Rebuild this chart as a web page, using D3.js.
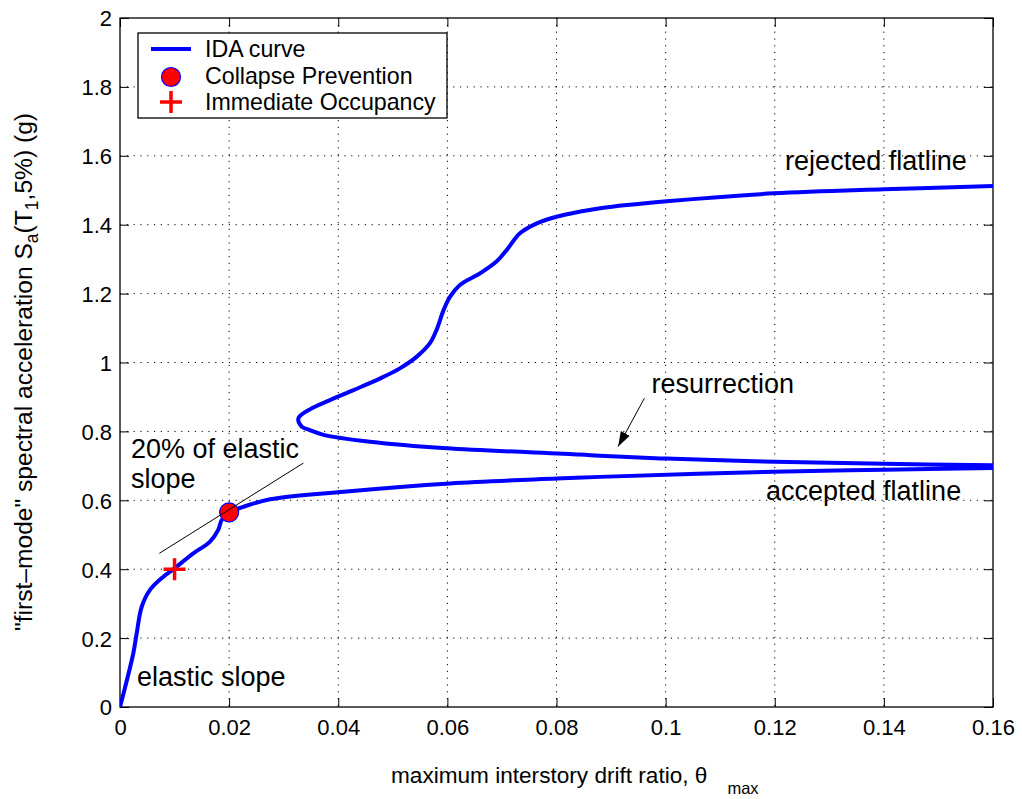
<!DOCTYPE html>
<html>
<head>
<meta charset="utf-8">
<script src="https://cdn.jsdelivr.net/npm/d3@7"></script>
<style>
  html, body { margin: 0; padding: 0; background: #fff; }
  svg { display: block; font-family: "Liberation Sans", Arial, Helvetica, sans-serif; }
</style>
</head>
<body>
<svg id="chart" width="1022" height="799"></svg>
<script>
// IDA curve: maximum interstory drift ratio vs first-mode spectral acceleration.
// The curve runs up the elastic branch, out along the accepted flatline, then
// back along the resurrection branch and up to the rejected flatline.
const driftRatio = [
  0, 0.00244, 0.00306, 0.00398, 0.0055, 0.00794, 0.0098, 0.01344, 0.0165, 0.018, 0.01864, 0.02,
  0.0226, 0.0275, 0.041, 0.0605, 0.08, 0.088, 0.1198, 0.14, 0.16,
  0.16, 0.14, 0.12, 0.1, 0.088, 0.0843, 0.0599, 0.0458, 0.0373, 0.0348, 0.0333, 0.0327,
  0.0348, 0.0385, 0.0428, 0.0477, 0.0513, 0.0544, 0.0568, 0.058, 0.0593, 0.0605, 0.0623,
  0.066, 0.069, 0.0709, 0.0733, 0.0764, 0.08, 0.0843, 0.088, 0.1002, 0.1198, 0.14, 0.16
];
const spectralAccel = [
  0, 0.156, 0.214, 0.291, 0.340, 0.378, 0.400, 0.446, 0.480, 0.514, 0.543, 0.565,
  0.581, 0.603, 0.625, 0.649, 0.663, 0.668, 0.683, 0.689, 0.694,
  0.702, 0.706, 0.712, 0.721, 0.729, 0.733, 0.751, 0.770, 0.790, 0.804, 0.814, 0.838,
  0.864, 0.891, 0.920, 0.954, 0.983, 1.017, 1.056, 1.094, 1.152, 1.191, 1.225,
  1.259, 1.293, 1.327, 1.375, 1.404, 1.423, 1.438, 1.448, 1.468, 1.491, 1.503, 1.512
];
// index where the curve turns back from the accepted flatline
const turnIndex = 21;

// Limit-state points
const collapsePrevention = [0.02, 0.565];
const immediateOccupancy = [0.01, 0.40];

// 20% of elastic slope reference line (two end points)
const slopeLineX = [0.0072, 0.0336];
const slopeLineY = [0.446, 0.708];

// Resurrection arrow (tail, head)
const arrowX = [0.0961, 0.0913];
const arrowY = [0.896, 0.756];

// Axis ticks
const xTicks = [0, 0.02, 0.04, 0.06, 0.08, 0.1, 0.12, 0.14, 0.16];
const xTickLabels = ["0", "0.02", "0.04", "0.06", "0.08", "0.1", "0.12", "0.14", "0.16"];
const yTicks = [0, 0.2, 0.4, 0.6, 0.8, 1, 1.2, 1.4, 1.6, 1.8, 2];
const yTickLabels = ["0", "0.2", "0.4", "0.6", "0.8", "1", "1.2", "1.4", "1.6", "1.8", "2"];

// Annotation labels and their anchor points (data coordinates)
const noteText = ["rejected flatline", "resurrection", "accepted flatline", "20% of elastic", "slope", "elastic slope"];
const noteX = [0.1219, 0.0974, 0.1184, 0.0020, 0.0020, 0.0031];
const noteY = [1.558, 0.912, 0.600, 0.723, 0.636, 0.060];

const legendLabels = ["IDA curve", "Collapse Prevention", "Immediate Occupancy"];

const blue = "#0000ff", red = "#ff0000";
const svg = d3.select("#chart");
const m = { left: 120, top: 18, right: 29, bottom: 92 };
const W = 1022 - m.left - m.right, H = 799 - m.top - m.bottom;

const x = d3.scaleLinear().domain([0, 0.16]).range([0, W]);
const y = d3.scaleLinear().domain([0, 2]).range([H, 0]);

const g = svg.append("g").attr("transform", `translate(${m.left},${m.top})`);

const defs = svg.append("defs");
defs.append("clipPath").attr("id", "plotClip")
  .append("rect").attr("width", W).attr("height", H);
defs.append("marker")
  .attr("id", "arrowHead").attr("viewBox", "0 0 10 10").attr("refX", 10).attr("refY", 5)
  .attr("markerWidth", 15).attr("markerHeight", 15).attr("markerUnits", "userSpaceOnUse")
  .attr("orient", "auto")
  .append("path").attr("d", "M0,1.6 L10,5 L0,8.4 Z").attr("fill", "#000");

// Dotted grid
const grid = g.append("g").attr("stroke", "#000").attr("stroke-width", 1).attr("stroke-dasharray", "1.2,5.6");
grid.selectAll(".gx").data(xTicks.slice(1, -1)).join("line")
  .attr("x1", d => x(d)).attr("x2", d => x(d)).attr("y1", 0).attr("y2", H);
grid.selectAll(".gy").data(yTicks.slice(1, -1)).join("line")
  .attr("x1", 0).attr("x2", W).attr("y1", d => y(d)).attr("y2", d => y(d));

// Axes with inward ticks on all four sides
const tickLen = 9;
const fmtX = d => xTickLabels[xTicks.indexOf(d)];
const fmtY = d => yTickLabels[yTicks.indexOf(d)];
const axB = g.append("g").attr("transform", `translate(0,${H})`)
  .call(d3.axisBottom(x).tickValues(xTicks).tickFormat(fmtX).tickSizeInner(-tickLen).tickSizeOuter(0).tickPadding(12));
const axL = g.append("g")
  .call(d3.axisLeft(y).tickValues(yTicks).tickFormat(fmtY).tickSizeInner(-tickLen).tickSizeOuter(0).tickPadding(8));
const axT = g.append("g")
  .call(d3.axisTop(x).tickValues(xTicks).tickFormat("").tickSizeInner(-tickLen).tickSizeOuter(0));
const axR = g.append("g").attr("transform", `translate(${W},0)`)
  .call(d3.axisRight(y).tickValues(yTicks).tickFormat("").tickSizeInner(-tickLen).tickSizeOuter(0));
[axB, axL, axT, axR].forEach(a => {
  a.select(".domain").remove();
  a.selectAll("line").attr("stroke", "#000").attr("stroke-width", 1);
  a.selectAll("text").attr("font-size", 22).attr("fill", "#000").attr("font-family", "Liberation Sans, Arial, sans-serif");
});
axB.selectAll("text").attr("dy", "0.71em");
axL.selectAll("text").attr("dy", "0.36em");

// Box
g.append("rect").attr("width", W).attr("height", H).attr("fill", "none")
  .attr("stroke", "#000").attr("stroke-width", 1.3);

// IDA curve (one path, two smooth runs joined at the right edge)
const pts = driftRatio.map((d, i) => [d, spectralAccel[i]]);
const line = d3.line().x(d => x(d[0])).y(d => y(d[1])).curve(d3.curveCatmullRom.alpha(0.5));
const runOut = pts.slice(0, turnIndex);
const joinSeg = `M${x(runOut[runOut.length - 1][0])},${y(runOut[runOut.length - 1][1])}L${x(pts[turnIndex][0])},${y(pts[turnIndex][1])}`;
g.append("path").attr("clip-path", "url(#plotClip)")
  .attr("d", line(runOut) + joinSeg + line(pts.slice(turnIndex)))
  .attr("fill", "none").attr("stroke", blue).attr("stroke-width", 4)
  .attr("stroke-linejoin", "round").attr("stroke-linecap", "round");

// Immediate Occupancy marker
function plus(sel, cx, cy, r) {
  sel.append("path")
    .attr("d", `M${cx - r},${cy}H${cx + r}M${cx},${cy - r}V${cy + r}`)
    .attr("stroke", red).attr("stroke-width", 3.5).attr("fill", "none");
}
plus(g, x(immediateOccupancy[0]), y(immediateOccupancy[1]), 11);

// Collapse Prevention marker
g.append("circle").attr("cx", x(collapsePrevention[0])).attr("cy", y(collapsePrevention[1]))
  .attr("r", 9.5).attr("fill", red).attr("stroke", blue).attr("stroke-width", 1.2);

// 20% elastic slope line
g.append("line")
  .attr("x1", x(slopeLineX[0])).attr("y1", y(slopeLineY[0]))
  .attr("x2", x(slopeLineX[1])).attr("y2", y(slopeLineY[1]))
  .attr("stroke", "#000").attr("stroke-width", 1);

// Resurrection arrow
g.append("line")
  .attr("x1", x(arrowX[0])).attr("y1", y(arrowY[0]))
  .attr("x2", x(arrowX[1])).attr("y2", y(arrowY[1]))
  .attr("stroke", "#000").attr("stroke-width", 1).attr("marker-end", "url(#arrowHead)");

// Annotations
g.selectAll(".note").data(noteText).join("text")
  .attr("x", (d, i) => x(noteX[i])).attr("y", (d, i) => y(noteY[i]))
  .attr("font-size", 27).attr("fill", "#000").text(d => d);

// Legend
const lg = svg.append("g").attr("transform", "translate(138,33)");
lg.append("rect").attr("width", 309).attr("height", 85).attr("fill", "#fff")
  .attr("stroke", "#000").attr("stroke-width", 1.3);
lg.append("line").attr("x1", 13).attr("x2", 53).attr("y1", 16).attr("y2", 16)
  .attr("stroke", blue).attr("stroke-width", 4);
lg.append("circle").attr("cx", 33).attr("cy", 44).attr("r", 9.5)
  .attr("fill", red).attr("stroke", blue).attr("stroke-width", 1.2);
plus(lg, 33, 69, 11);
lg.selectAll(".lt").data(legendLabels).join("text")
  .attr("x", 67).attr("y", (d, i) => 24 + i * 26.5)
  .attr("font-size", 23.2).attr("fill", "#000").text(d => d);

// X axis label
const xl = svg.append("text").attr("x", 391).attr("y", 783).attr("font-size", 22.6).attr("fill", "#000");
xl.append("tspan").text("maximum interstory drift ratio, θ");
xl.append("tspan").attr("dx", 20).attr("dy", 11).attr("font-size", 16.5).text("max");

// Y axis label
const yl = svg.append("text")
  .attr("transform", "translate(32,372) rotate(-90)")
  .attr("text-anchor", "middle").attr("font-size", 24.6).attr("fill", "#000");
yl.append("tspan").text("\"first–mode\" spectral acceleration S");
yl.append("tspan").attr("font-size", 17.5).attr("dy", 6).text("a");
yl.append("tspan").attr("dy", -6).text("(T");
yl.append("tspan").attr("font-size", 17.5).attr("dy", 6).text("1");
yl.append("tspan").attr("dy", -6).text(",5%) (g)");
</script>
</body>
</html>
